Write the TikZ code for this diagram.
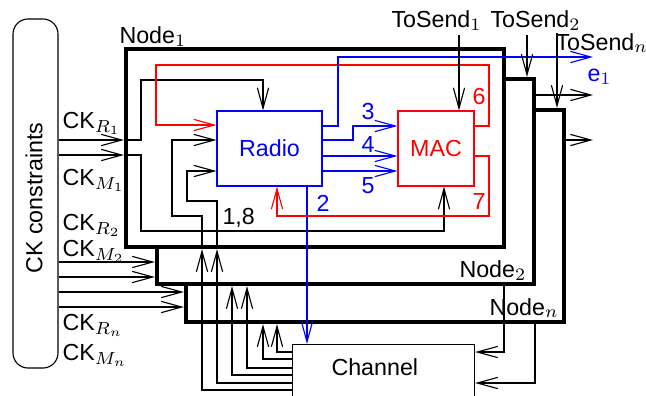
\documentclass[tikz,border=0pt]{standalone}
\usepackage{fontspec}
\setmainfont{Liberation Sans}
\usepackage{tikz}
\usetikzlibrary{positioning, arrows.meta, calc}

\begin{document}
\begin{tikzpicture}[
      x=0.4pt, y=-0.4pt,
      every node/.style={font=\fontsize{9.3}{11}\selectfont},
      wire/.style={line width=0.45pt},
      arr/.style={line width=0.45pt, -{Straight Barb[length=8.2pt, width=4.5pt]}},
      nodebox/.style={draw, line width=1.7pt, fill=white, minimum width=151.2pt, inner sep=0pt},
      lbl/.style={inner sep=0pt, anchor=base west}
    ]
      \clip (0,0) rectangle (646,395);
      \node[nodebox, minimum height=84.8pt] (nn) at (375,216) {};
      \node[nodebox, minimum height=82pt, minimum width=150.8pt] (n2) at (345.5,181.5) {};
      \node[nodebox, minimum height=79.2pt] (n1) at (315,148) {};
      \node[lbl] (n1lbl) at (119,43) {Node$_1$};
      \node[lbl] (n2lbl) at (459,277) {Node$_2$};
      \node[lbl] (nnlbl) at (489,315) {Node$_n$};

      \node[draw, wire, rounded corners=6pt, minimum width=18pt, minimum height=139.6pt, inner sep=0pt] (ck) at (35.5,193.5) {};
      \node[rotate=90] (cktext) at (34,198) {CK constraints};
      \node[draw, blue, wire, text=blue, minimum width=42pt, minimum height=30pt, inner sep=0pt] (radio) at (269.5,148.5) {Radio};
      \node[draw, red, wire, text=red, minimum width=30.4pt, minimum height=30pt, inner sep=0pt] (mac) at (436,148.5) {MAC};
      \node[draw, wire, anchor=north west, minimum width=72.8pt, minimum height=40pt, inner sep=0pt] (channel) at (292,344) {};
      \node[lbl] (chantext) at (331,375) {Channel};

      \node[lbl] (ckr1) at (62,128) {CK$_{R_1}$};
      \node[lbl] (ckm1) at (62,185) {CK$_{M_1}$};
      \node[lbl] (ckr2) at (62,230) {CK$_{R_2}$};
      \node[lbl] (ckm2) at (62,256) {CK$_{M_2}$};
      \node[lbl] (ckrn) at (62,330) {CK$_{R_n}$};
      \node[lbl] (ckmn) at (62,360) {CK$_{M_n}$};
      \draw[arr] (ck.east |- 0,140) -- (n1.west |- 0,140);
      \draw[arr] (ck.east |- 0,155) -- (n1.west |- 0,155);
      \draw[arr] (ck.east |- 0,262) -- (n2.west |- 0,262);
      \draw[arr] (ck.east |- 0,277) -- (n2.west |- 0,277);
      \draw[arr] (ck.east |- 0,292) -- (nn.west |- 0,292);
      \draw[arr] (ck.east |- 0,307) -- (nn.west |- 0,307);

      \draw[arr] (n1.west |- 0,140) -- (141,140) |- (263,80) -- (263,0 |- radio.north);
      \draw[arr] (n1.west |- 0,155) -- (141,155) |- (444,231) -- (444,0 |- mac.south);
      \node[lbl] (l18) at (222,224) {1,8};

      \draw[arr] (channel.west |- 0,390) -| (202,0 |- n1.south);
      \draw[arr] (202,0 |- n1.south) |- (172,216) |- (radio.west |- 0,140);
      \draw[arr] (channel.west |- 0,383) -| (217,0 |- n1.south);
      \draw[arr] (217,0 |- n1.south) |- (187,201) |- (radio.west |- 0,171);
      \draw[arr] (channel.west |- 0,375) -| (232,0 |- n2.south);
      \draw[arr] (channel.west |- 0,368) -| (247,0 |- n2.south);
      \draw[arr] (channel.west |- 0,359) -| (263,0 |- nn.south);
      \draw[arr] (channel.west |- 0,352) -| (277,0 |- nn.south);
      \draw[arr] (504,0 |- n2.south) |- (channel.east |- 0,352);
      \draw[arr] (535,0 |- nn.south) |- (channel.east |- 0,383);

      \draw[arr, blue] (radio.east |- 0,140) -- (353,140) |- (mac.west |- 0,126);
      \draw[arr, blue] (radio.east |- 0,156) -- (mac.west |- 0,156);
      \draw[arr, blue] (radio.east |- 0,171) -- (mac.west |- 0,171);
      \node[lbl, blue] (lb3) at (361,119) {3};
      \node[lbl, blue] (lb4) at (361,152) {4};
      \node[lbl, blue] (lb5) at (361,193) {5};
      \draw[arr, blue] (307,0 |- radio.south) -- (307,0 |- channel.north);
      \node[lbl, blue] (lb2) at (316,211) {2};

      \draw[arr, red] (mac.east |- 0,126) -| (489,65) -| (156,125) -- (radio.west |- 0,125);
      \draw[arr, red] (mac.east |- 0,156) -| (489,216) -| (277,0 |- radio.south);
      \node[lbl, red] (lb6) at (472,104) {6};
      \node[lbl, red] (lb7) at (472,209) {7};

      \coordinate (out1) at (593,57);
      \coordinate (out2) at (593,95);
      \coordinate (outn) at (593,140);
      \draw[arr, blue] (radio.east |- 0,126) -| (338,57) -- (out1);
      \node[lbl, blue] (e1) at (587,81) {e$_1$};
      \draw[arr] (n2.east |- 0,95) -- (out2);
      \draw[arr] (nn.east |- 0,140) -- (outn);

      \node[lbl] (ts1) at (391,27) {ToSend$_1$};
      \node[lbl] (ts2) at (490,27) {ToSend$_2$};
      \node[lbl] (tsn) at (555,50) {ToSend$_n$};
      \draw[arr] (459,35) -- (459,0 |- mac.north);
      \draw[arr] (527,35) -- (527,0 |- n2.north);
      \draw[arr] (557,33) -- (557,0 |- nn.north);
    \end{tikzpicture}
\end{document}
